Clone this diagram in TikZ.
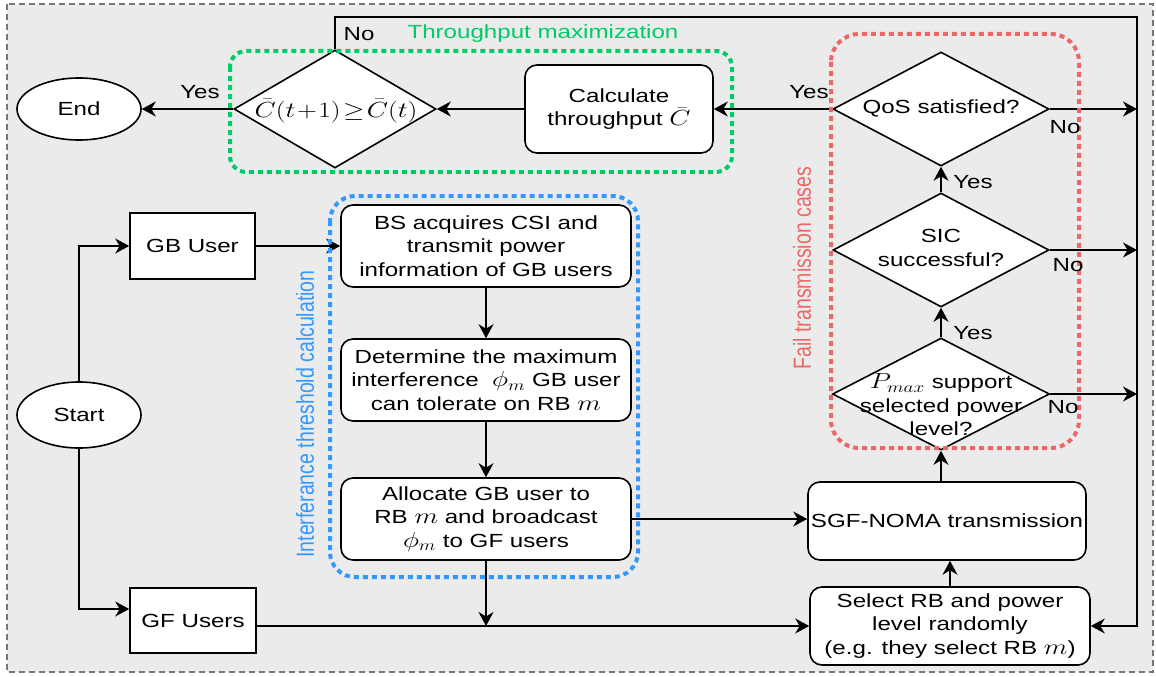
\RequirePackage{fix-cm}
\documentclass[tikz,border=0pt]{standalone}
\usepackage[no-math]{fontspec}
\setmainfont{Liberation Sans}[FakeStretch=1.27]
\newfontfamily\rotfont{Liberation Sans}
\usepackage{graphicx}
\usetikzlibrary{arrows.meta,shapes.geometric}
\definecolor{bgc}{RGB}{235,235,235}
\definecolor{frm}{RGB}{120,120,120}
\definecolor{grn}{RGB}{0,204,102}
\definecolor{blu}{RGB}{51,153,255}
\definecolor{red2}{RGB}{236,104,104}
\newcommand{\myfs}{\fontsize{19}{23.5}\selectfont}
\newcommand{\rotfs}{\rotfont\fontsize{19.5}{23}\selectfont}
\newcommand{\mth}[1]{\scalebox{1.45}[1.15]{$#1$}}
\tikzset{
  ln/.style={line width=1.6pt, draw=black},
  arr/.style={ln, -{Stealth[length=14pt,width=15pt,inset=4.5pt]}},
  rbox/.style={draw, line width=1.6pt, fill=white, rounded corners=12pt, align=center, inner sep=0pt, font=\myfs},
  sqbox/.style={draw, line width=1.6pt, fill=white, align=center, inner sep=0pt, font=\myfs},
  ell/.style={ellipse, draw, line width=1.6pt, fill=white, inner sep=0pt, font=\myfs},
  dia/.style={diamond, draw, line width=1.6pt, fill=white, inner sep=0pt},
  txt/.style={align=center, font=\myfs, inner sep=0pt},
  lbl/.style={font=\myfs, inner sep=0pt},
  grp/.style={dash pattern=on 5pt off 4pt, line width=4pt},
  rotl/.style={rotate=90, font=\rotfs, inner sep=0pt},
}
\begin{document}
\begin{tikzpicture}[x=1pt,y=-1pt]
\useasboundingbox (0,0) rectangle (1156,677);
\fill[bgc] (7,4) rectangle (1153,672);
\draw[frm, line width=1.5pt, dash pattern=on 6pt off 4pt] (7,4) rectangle (1153,672);

% nodes
\node[ell, minimum width=124, minimum height=62] (end) at (79,109) {End};
\node[dia, minimum width=202, minimum height=118] (d1) at (335,109) {};
\node[txt] (d1t) at (336,111) {\mth{\bar{C}(t\mskip1mu{+}\mskip1mu1)\mskip1.5mu{\geq}\mskip1.5mu\bar{C}(t)}};
\node[rbox, minimum width=188, minimum height=88] (calc) at (619,109) {Calculate\\throughput \mth{\bar{C}}};
\node[dia, minimum width=216, minimum height=114] (qos) at (941,109) {};
\node[txt] (qost) at (941,108) {QoS satisfied?};
\node[dia, minimum width=216, minimum height=114] (sic) at (941,250) {};
\node[txt] (sict) at (941,248) {SIC\\successful?};
\node[dia, minimum width=217, minimum height=112] (pmax) at (941,394) {};
\node[txt] (pmaxt) at (941,405) {\mth{P_{max}} support\\selected power\\level?};
\node[rbox, minimum width=278, minimum height=78] (sgf) at (947,521) {SGF-NOMA transmission};
\node[rbox, minimum width=280, minimum height=78] (sel) at (950,626) {Select RB and power\\level randomly\\(e.g. they select RB \mth{m})};
\node[sqbox, minimum width=125, minimum height=66] (gb) at (192.5,246) {GB User};
\node[ell, minimum width=124, minimum height=66] (start) at (79,415) {Start};
\node[sqbox, minimum width=126, minimum height=65] (gf) at (193,620.5) {GF Users};
\node[rbox, minimum width=290, minimum height=82] (bs) at (486,246) {BS acquires CSI and\\transmit power\\information of GB users};
\node[rbox, minimum width=290, minimum height=82] (det) at (486,380) {Determine the maximum\\interference \ \mth{\phi_m} GB user\\can tolerate on RB \mth{m}};
\node[rbox, minimum width=290, minimum height=82] (alloc) at (486,519) {Allocate GB user to\\RB \mth{m} and broadcast\\\mth{\phi_m} to GF users};

% connectors
\coordinate (rail) at (1137,17);
\draw[arr] (d1.west) -- (end.east);
\draw[arr] (calc.west) -- (d1.east);
\draw[arr] (qos.west) -- (calc.east);
\draw[arr] (d1.north) |- (rail) -- (rail |- sel.east) -- (sel.east);
\draw[arr] (qos.east) -- (qos.east -| rail);
\draw[arr] (sic.east) -- (sic.east -| rail);
\draw[arr] (pmax.east) -- (pmax.east -| rail);
\draw[arr] (sic.north) -- (qos.south);
\draw[arr] (pmax.north) -- (sic.south);
\draw[arr] (sgf.north -| pmax.south) -- (pmax.south);
\draw[arr] (sel.north) -- (sel.north |- sgf.south);
\draw[arr] (gf.east |- sel.west) -- (sel.west);
\coordinate (join) at (alloc.south |- sel.west);
\draw[arr] (alloc.south) -- (join);
\draw[arr] (alloc.east) -- (alloc.east -| sgf.west);
\draw[arr] (gb.east) -- (bs.west);
\draw[arr] (bs.south) -- (det.north);
\draw[arr] (det.south) -- (alloc.north);
\draw[arr] (start.north) |- (gb.west);
\draw[arr] (start.south) |- ([yshift=11.5pt]gf.west);

% groups
\draw[grn, grp, rounded corners=16pt] (230,51) rectangle (732,172);
\draw[red2, grp, rounded corners=28pt] (831,34) rectangle (1079,448);
\draw[blu, grp, rounded corners=25pt] (330,196) rectangle (638,577);

% labels
\node[lbl, text=grn] (tmax) at (543,34) {Throughput maximization};
\node[rotl, text=red2] (ftc) at (802,268) {\scalebox{1}[1.27]{Fail transmission cases}};
\node[rotl, text=blu] (itc) at (305,414) {\scalebox{1}[1.27]{Interferance threshold calculation}};
\node[lbl] (y1) at (200,92) {Yes};
\node[lbl] (n1) at (359,34) {No};
\node[lbl] (y2) at (809,92) {Yes};
\node[lbl] (n2) at (1065,127) {No};
\node[lbl] (y3) at (973,182) {Yes};
\node[lbl] (n3) at (1068,265) {No};
\node[lbl] (y4) at (973,333) {Yes};
\node[lbl] (n4) at (1063,407) {No};
\end{tikzpicture}
\end{document}
